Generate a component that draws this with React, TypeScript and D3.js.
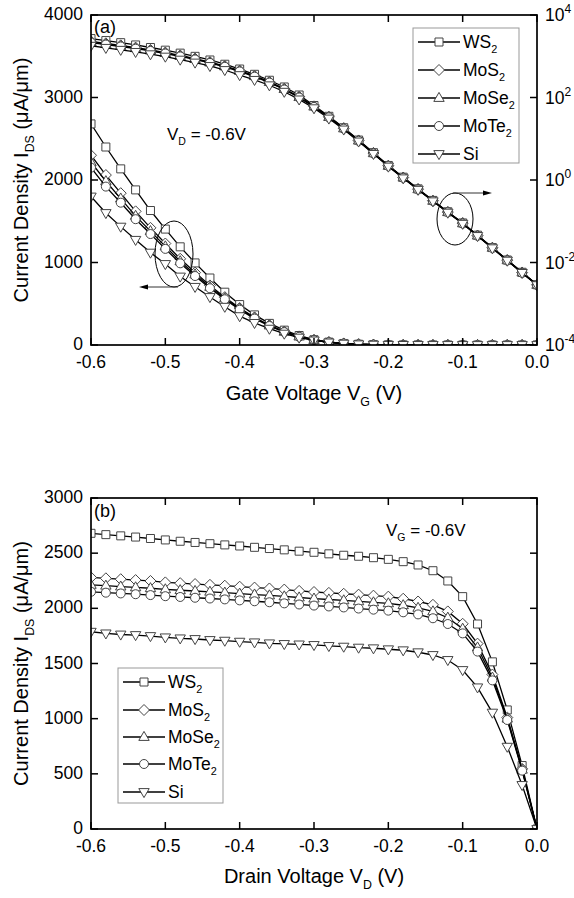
import React from 'react';
import * as d3 from 'd3';

// ---------- DATA ----------
const VOLTS = [-0.6, -0.58, -0.56, -0.54, -0.52, -0.5, -0.48, -0.46, -0.44, -0.42, -0.4, -0.38, -0.36, -0.34, -0.32, -0.3, -0.28, -0.26, -0.24, -0.22, -0.2, -0.18, -0.16, -0.14, -0.12, -0.1, -0.08, -0.06, -0.04, -0.02, 0];

const MATERIALS = ['WS2', 'MoS2', 'MoSe2', 'MoTe2', 'Si'];
const MARKER_KINDS = ['square', 'diamond', 'triangle', 'circle', 'triangleDown'];

// (a) IDS vs VG at VD = -0.6 V
const gateWS2 = [2680, 2400, 2135, 1880, 1630, 1405, 1190, 995, 812, 640, 490, 365, 262, 180, 115, 64, 35, 18.5, 9.3, 4.6, 2.25, 1.17, 0.61, 0.32, 0.17, 0.091, 0.046, 0.023, 0.0115, 0.0058, 0.0029];
const gateMoS2 = [2300, 2060, 1840, 1620, 1420, 1230, 1045, 878, 722, 580, 448, 335, 240, 163, 104, 61, 34, 18, 9.1, 4.5, 2.22, 1.15, 0.6, 0.315, 0.167, 0.09, 0.045, 0.0228, 0.0114, 0.0057, 0.00288];
const gateMoSe2 = [2215, 1985, 1775, 1565, 1380, 1195, 1015, 855, 704, 566, 438, 328, 236, 160, 102, 60, 33.5, 17.8, 9.0, 4.45, 2.2, 1.14, 0.595, 0.312, 0.166, 0.089, 0.0448, 0.0226, 0.0113, 0.0057, 0.00286];
const gateMoTe2 = [2150, 1920, 1725, 1525, 1345, 1165, 990, 836, 688, 554, 428, 320, 230, 156, 100, 59, 33, 17.6, 8.9, 4.4, 2.18, 1.13, 0.59, 0.31, 0.165, 0.088, 0.0445, 0.0225, 0.0112, 0.0056, 0.00284];
const gateSi = [1800, 1600, 1435, 1275, 1120, 982, 830, 705, 582, 464, 350, 268, 198, 138, 90, 55, 31, 16.8, 8.6, 4.3, 2.12, 1.1, 0.58, 0.305, 0.162, 0.087, 0.044, 0.0222, 0.0111, 0.0056, 0.00283];

// (b) IDS vs VD at VG = -0.6 V
const drainWS2 = [2680, 2668, 2657, 2646, 2633, 2620, 2608, 2597, 2586, 2575, 2565, 2553, 2542, 2530, 2518, 2508, 2494, 2481, 2472, 2459, 2444, 2423, 2393, 2341, 2248, 2106, 1858, 1515, 1079, 575, 0];
const drainMoS2 = [2280, 2272, 2264, 2256, 2248, 2235, 2228, 2220, 2213, 2205, 2196, 2188, 2180, 2170, 2158, 2148, 2140, 2132, 2124, 2115, 2106, 2087, 2062, 2032, 1972, 1860, 1680, 1400, 1010, 545, 0];
const drainMoSe2 = [2212, 2205, 2197, 2190, 2182, 2172, 2164, 2157, 2150, 2142, 2133, 2125, 2117, 2108, 2098, 2088, 2080, 2072, 2063, 2054, 2045, 2028, 2004, 1972, 1915, 1815, 1645, 1372, 1000, 537, 0];
const drainMoTe2 = [2150, 2142, 2135, 2128, 2120, 2110, 2103, 2096, 2089, 2081, 2072, 2064, 2055, 2045, 2035, 2025, 2017, 2008, 1998, 1988, 1979, 1964, 1945, 1910, 1858, 1773, 1608, 1347, 988, 529, 0];
const drainSi = [1788, 1773, 1763, 1758, 1749, 1737, 1728, 1722, 1713, 1707, 1698, 1692, 1683, 1677, 1673, 1668, 1659, 1653, 1644, 1638, 1629, 1620, 1602, 1577, 1532, 1441, 1284, 1055, 746, 399, 0];

const gateSeries = [gateWS2, gateMoS2, gateMoSe2, gateMoTe2, gateSi];
const drainSeries = [drainWS2, drainMoS2, drainMoSe2, drainMoTe2, drainSi];

const X_TICKS = [-0.6, -0.5, -0.4, -0.3, -0.2, -0.1, 0.0];
const A_LEFT_TICKS = [0, 1000, 2000, 3000, 4000];
const A_RIGHT_EXPONENTS = [4, 2, 0, -2, -4];
const B_LEFT_TICKS = [0, 500, 1000, 1500, 2000, 2500, 3000];

// ---------- STYLE ----------
const FONT = '"Liberation Sans", Arial, Helvetica, sans-serif';
const TICK_FS = 17.5;
const TITLE_FS = 20;
const LEG_FS = 17.5;

function markerPath(kind: string): string {
  switch (kind) {
    case 'square': return 'M-4,-4H4V4H-4Z';
    case 'diamond': return 'M0,-5.5L5.5,0L0,5.5L-5.5,0Z';
    case 'triangle': return 'M0,-5.6L5.2,3.4L-5.2,3.4Z';
    case 'triangleDown': return 'M0,5.6L5.2,-3.4L-5.2,-3.4Z';
    default: return 'M4.5,0A4.5,4.5 0 1,1 -4.5,0A4.5,4.5 0 1,1 4.5,0Z';
  }
}

const Marker = ({ kind, x, y }: { kind: string; x: number; y: number }) => (
  <path d={markerPath(kind)} transform={`translate(${x},${y})`} fill="#fff" stroke="#444" strokeWidth={1} />
);

const Sub = ({ t, fs }: { t: string; fs: number }) => (
  <tspan fontSize={fs * 0.62} dy={fs * 0.3}>{t}</tspan>
);

function SeriesLayer({ data, x, y, kind, clipId }: any) {
  const line = d3.line<number>().x((_, i) => x(VOLTS[i])).y((d) => y(d));
  return (
    <g clipPath={`url(#${clipId})`}>
      <path d={line(data) || ''} fill="none" stroke="#000" strokeWidth={1.3} />
      {data.map((d: number, i: number) => (
        <Marker key={i} kind={kind} x={x(VOLTS[i])} y={y(d)} />
      ))}
    </g>
  );
}

function Legend({ x0, y0, w, h, rowY }: { x0: number; y0: number; w: number; h: number; rowY: number[] }) {
  return (
    <g>
      <rect x={x0} y={y0} width={w} height={h} fill="#fff" stroke="#999" strokeWidth={1} />
      {MATERIALS.map((m, i) => {
        const yy = rowY[i];
        const base = m.endsWith('2') ? m.slice(0, -1) : m;
        return (
          <g key={m}>
            <line x1={x0 + 5} x2={x0 + 47} y1={yy} y2={yy} stroke="#000" strokeWidth={1.3} />
            <Marker kind={MARKER_KINDS[i]} x={x0 + 26} y={yy} />
            <text x={x0 + 50} y={yy + 6} fontSize={LEG_FS} fontFamily={FONT} fill="#000">
              {base}
              {m.endsWith('2') && <Sub t="2" fs={LEG_FS} />}
            </text>
          </g>
        );
      })}
    </g>
  );
}

function Frame({ L, R, T, B }: any) {
  return <rect x={L} y={T} width={R - L} height={B - T} fill="none" stroke="#000" strokeWidth={1.7} />;
}

function Arrow({ x1, x2, y }: { x1: number; x2: number; y: number }) {
  const dir = x2 > x1 ? 1 : -1;
  return (
    <g>
      <line x1={x1} x2={x2 - dir * 6} y1={y} y2={y} stroke="#333" strokeWidth={1} />
      <path d={`M${x2},${y}L${x2 - dir * 9},${y - 2.5}L${x2 - dir * 9},${y + 2.5}Z`} fill="#000" />
    </g>
  );
}

export default function App() {
  const L = 91, R = 537;
  const aT = 15, aB = 345;
  const bT = 498, bB = 829;
  const tickLen = 7;

  const x = d3.scaleLinear().domain([-0.6, 0]).range([L, R]);
  const yA = d3.scaleLinear().domain([0, 4000]).range([aB, aT]);
  const yALog = d3.scaleLog().domain([1e-4, 1e4]).range([aB, aT]);
  const yB = d3.scaleLinear().domain([0, 3000]).range([bB, bT]);

  const xTicks = (T: number, B: number) => (
    <g>
      {X_TICKS.map((t) => (
        <g key={t}>
          <line x1={x(t)} x2={x(t)} y1={B} y2={B - tickLen} stroke="#000" strokeWidth={1.5} />
          <line x1={x(t)} x2={x(t)} y1={T} y2={T + tickLen} stroke="#000" strokeWidth={1.5} />
          <text x={x(t)} y={B + 22.5} textAnchor="middle" fontSize={TICK_FS} fontFamily={FONT}>{d3.format('.1f')(t).replace('−', '-')}</text>
        </g>
      ))}
    </g>
  );

  return (
    <svg width={574} height={898} style={{ position: 'absolute', left: 0, top: 0, background: '#fff' }} fontFamily={FONT}>
      <defs>
        <clipPath id="clipA"><rect x={L} y={aT} width={R - L} height={aB - aT} /></clipPath>
        <clipPath id="clipB"><rect x={L} y={bT} width={R - L} height={bB - bT} /></clipPath>
      </defs>
      <rect x={0} y={0} width={574} height={898} fill="#fff" />

      {/* ---------- Panel (a) ---------- */}
      {gateSeries.map((s, i) => (
        <SeriesLayer key={'al' + i} data={s} x={x} y={yA} kind={MARKER_KINDS[i]} clipId="clipA" />
      ))}
      {gateSeries.map((s, i) => (
        <SeriesLayer key={'ag' + i} data={s} x={x} y={yALog} kind={MARKER_KINDS[i]} clipId="clipA" />
      ))}
      <Frame L={L} R={R} T={aT} B={aB} />
      {xTicks(aT, aB)}
      {A_LEFT_TICKS.map((t) => (
        <g key={t}>
          <line x1={L} x2={L + tickLen} y1={yA(t)} y2={yA(t)} stroke="#000" strokeWidth={1.5} />
          <text x={83} y={yA(t) + 5} textAnchor="end" fontSize={TICK_FS}>{t}</text>
        </g>
      ))}
      {A_RIGHT_EXPONENTS.map((e) => (
        <g key={e}>
          <line x1={R} x2={R - tickLen} y1={yALog(Math.pow(10, e))} y2={yALog(Math.pow(10, e))} stroke="#000" strokeWidth={1.5} />
          <text x={545} y={yALog(Math.pow(10, e)) + 6} fontSize={TICK_FS}>
            10<tspan fontSize={12} dy={-8}>{String(e)}</tspan>
          </text>
        </g>
      ))}
      <text x={94} y={33} fontSize={18}>(a)</text>
      <text x={167} y={140} fontSize={17}>V<Sub t="D" fs={17} /><tspan dy={-17 * 0.3}> = -0.6V</tspan></text>
      <Legend x0={413} y0={28} w={106} h={135} rowY={[42, 70, 98, 126, 154]} />
      <ellipse cx={174} cy={254} rx={19} ry={33} fill="none" stroke="#000" strokeWidth={1} />
      <Arrow x1={178} x2={139} y={287} />
      <ellipse cx={455} cy={219} rx={18} ry={26} fill="none" stroke="#000" strokeWidth={1} />
      <Arrow x1={453} x2={492} y={193} />
      <text x={314} y={400} textAnchor="middle" fontSize={TITLE_FS}>
        Gate Voltage V<Sub t="G" fs={TITLE_FS} /><tspan dy={-TITLE_FS * 0.3}> (V)</tspan>
      </text>
      <text transform={`translate(28,${(aT + aB) / 2}) rotate(-90)`} textAnchor="middle" fontSize={TITLE_FS}>
        Current Density I<Sub t="DS" fs={TITLE_FS} /><tspan dy={-TITLE_FS * 0.3}> (μA/μm)</tspan>
      </text>

      {/* ---------- Panel (b) ---------- */}
      {drainSeries.map((s, i) => (
        <SeriesLayer key={'b' + i} data={s} x={x} y={yB} kind={MARKER_KINDS[i]} clipId="clipB" />
      ))}
      <Frame L={L} R={R} T={bT} B={bB} />
      {xTicks(bT, bB)}
      {B_LEFT_TICKS.map((t) => (
        <g key={t}>
          <line x1={L} x2={L + tickLen} y1={yB(t)} y2={yB(t)} stroke="#000" strokeWidth={1.5} />
          <line x1={R} x2={R - tickLen} y1={yB(t)} y2={yB(t)} stroke="#000" strokeWidth={1.5} />
          <text x={83} y={yB(t) + 5} textAnchor="end" fontSize={TICK_FS}>{t}</text>
        </g>
      ))}
      <text x={94} y={517} fontSize={18}>(b)</text>
      <text x={386} y={536} fontSize={17}>V<Sub t="G" fs={17} /><tspan dy={-17 * 0.3}> = -0.6V</tspan></text>
      <Legend x0={118} y0={668} w={105} h={135} rowY={[682, 710, 737, 764, 792]} />
      <text x={314} y={883} textAnchor="middle" fontSize={TITLE_FS}>
        Drain Voltage V<Sub t="D" fs={TITLE_FS} /><tspan dy={-TITLE_FS * 0.3}> (V)</tspan>
      </text>
      <text transform={`translate(28,${(bT + bB) / 2}) rotate(-90)`} textAnchor="middle" fontSize={TITLE_FS}>
        Current Density I<Sub t="DS" fs={TITLE_FS} /><tspan dy={-TITLE_FS * 0.3}> (μA/μm)</tspan>
      </text>
    </svg>
  );
}
